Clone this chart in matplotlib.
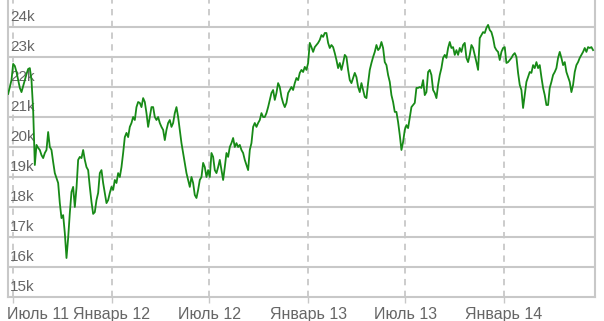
import matplotlib
matplotlib.use("Agg")
import matplotlib.pyplot as plt
import matplotlib.dates as mdates
import matplotlib.transforms as mtransforms
import pandas as pd
import numpy as np

plt.rcParams['font.family'] = ['Liberation Sans', 'DejaVu Sans']

# index values (thousands), sampled evenly in time from 2011-06-22 to 2014-06-16
seg_2011 = [21.77, 22.00, 22.23, 22.77, 22.70, 22.50, 22.23, 21.97, 21.83, 22.03,
            22.23, 22.43, 22.60, 22.63, 22.23, 21.23, 19.40, 20.07, 19.97, 19.90,
            19.73, 19.63, 19.80, 19.90, 20.50, 20.00, 19.90, 19.50, 19.13, 18.97,
            18.80, 18.13, 17.63, 17.73, 17.13, 16.30, 16.97, 17.80, 18.50, 18.67,
            18.00, 18.63, 19.57, 19.67, 19.63, 19.90, 19.57, 19.33, 19.23, 18.67,
            18.17, 17.77]
seg_2012a = [17.83, 18.23, 18.47, 19.13, 19.23, 18.80, 18.47, 18.13, 18.23, 18.47,
             18.67, 18.57, 18.90, 18.80, 19.13, 19.00, 19.33, 19.80, 20.33, 20.47,
             20.33, 20.67, 20.80, 21.00, 20.90, 21.33, 21.50, 21.47, 21.33, 21.63,
             21.50, 21.13, 20.67, 21.00, 21.33, 21.33, 21.00, 20.90, 21.00, 20.80,
             20.67, 20.57, 20.23, 20.57, 20.80, 20.90, 20.67, 20.80, 21.13, 21.33,
             21.00, 20.57, 20.13, 19.80, 19.47, 19.13, 18.90, 18.67, 19.00, 18.80]
seg_2012b = [18.40, 18.30, 18.57, 18.90, 19.00, 19.47, 19.33, 19.00, 19.23, 19.00,
             19.80, 19.67, 19.23, 19.13, 19.33, 19.57, 19.23, 18.90, 19.33, 19.80,
             19.67, 20.00, 20.13, 20.30, 20.00, 20.13, 20.00, 20.07, 19.90, 19.80,
             19.57, 19.40, 19.23, 19.90, 20.13, 20.67, 20.80, 20.67, 20.80, 20.90,
             21.13, 21.00, 21.00, 21.13, 21.33, 21.57, 21.80, 21.90, 21.57, 21.80,
             22.13, 22.00, 21.67, 21.47, 21.33, 21.47, 21.80]
seg_2013a = [21.90, 22.00, 21.90, 22.13, 22.30, 22.23, 22.47, 22.57, 22.50, 22.67,
             22.57, 22.80, 23.47, 23.33, 23.17, 23.33, 23.40, 23.47, 23.57, 23.73,
             23.67, 23.80, 23.80, 23.47, 23.30, 23.40, 23.33, 23.13, 22.90, 22.63,
             22.80, 22.57, 22.80, 23.07, 23.00, 22.57, 22.23, 22.13, 22.30, 22.47,
             22.33, 22.00, 21.83, 22.13, 21.90, 21.67, 21.63, 22.13, 22.57, 22.80,
             23.00, 23.17, 23.40, 23.23]
seg_2013b = [23.30, 23.50, 23.30, 22.83, 22.73, 22.40, 22.17, 21.73, 21.50, 21.17,
             21.17, 20.83, 20.40, 19.90, 20.17, 20.57, 20.73, 20.63, 20.97, 21.33,
             21.40, 21.47, 21.97, 21.97, 22.00, 21.97, 22.23, 21.73, 21.83, 22.50,
             22.57, 22.40, 21.90, 21.80, 21.63, 22.07, 22.40, 22.63, 22.97, 23.07,
             22.97, 23.30, 23.50, 23.30, 23.33, 23.07, 23.23, 23.07, 23.30, 23.17,
             23.40, 23.47, 22.97, 22.83, 23.07, 23.40, 23.30, 23.07, 22.83, 22.57,
             23.63, 23.73, 23.83]
seg_2014 = [23.80, 23.97, 24.07, 23.90, 23.83, 23.63, 23.33, 23.23, 23.17, 22.90,
            23.17, 23.30, 23.33, 22.80, 22.83, 22.90, 22.97, 23.07, 23.13, 23.00,
            22.47, 22.07, 21.90, 21.30, 21.73, 22.17, 22.33, 22.50, 22.47, 22.73,
            22.63, 22.83, 22.63, 22.73, 22.33, 21.97, 21.73, 21.40, 21.40, 21.97,
            22.17, 22.40, 22.50, 22.63, 22.97, 23.17, 22.97, 22.73, 22.83, 22.50,
            22.33, 22.17, 21.83, 22.07, 22.50, 22.73, 22.83, 22.97, 23.07, 23.17,
            23.30, 23.17, 23.33, 23.30, 23.33, 23.23]

values = np.array(seg_2011 + seg_2012a + seg_2012b + seg_2013a + seg_2013b + seg_2014) * 1000
dates = pd.date_range('2011-06-22', '2014-06-16', periods=len(values))

y_ticks = [15000, 16000, 17000, 18000, 19000, 20000, 21000, 22000, 23000, 24000]
y_labels = ['15k', '16k', '17k', '18k', '19k', '20k', '21k', '22k', '23k', '24k']
x_ticks = ['2011-07-01', '2012-01-01', '2012-07-01', '2013-01-01', '2013-07-01', '2014-01-01']
x_labels = ['Июль 11', 'Январь 12', 'Июль 12', 'Январь 13', 'Июль 13', 'Январь 14']

W, H = 604, 321
fig = plt.figure(figsize=(W / 100, H / 100), dpi=100)
ax = fig.add_axes([8 / W, 24 / H, 587 / W, 297 / H])

grid_c = '#c8c8c8'
txt_c = '#666666'

ax.plot(dates, values, color='#178a17', lw=1.3, zorder=3, solid_joinstyle='round')

ax.set_ylim(15000, 24900)
x0 = mdates.date2num(pd.Timestamp('2011-07-01'))
ax.set_xlim(x0 - 9.3, x0 + 1084.6)

ax.set_yticks(y_ticks)
ax.set_yticklabels([])
ax.tick_params(axis='y', length=0)
for yv in y_ticks[1:]:
    ax.axhline(yv, color=grid_c, lw=1.5, zorder=1)

trans = mtransforms.blended_transform_factory(ax.transAxes, ax.transData)
for yv, lab in zip(y_ticks, y_labels):
    ax.text(0, yv, lab, transform=trans + mtransforms.ScaledTranslation(2 / 100, 3 / 100, fig.dpi_scale_trans),
            ha='left', va='bottom', fontsize=11, color=txt_c, zorder=2)

xt = [pd.Timestamp(d) for d in x_ticks]
ax.set_xticks(xt)
ax.set_xticklabels(x_labels, fontsize=11.5, color=txt_c)
ax.tick_params(axis='x', length=4, width=1, color=grid_c, pad=3)
for d in xt:
    ax.axvline(d, color=grid_c, lw=1.3, ls=(0, (3.5, 3)), zorder=1)
lbl0 = ax.get_xticklabels()[0]
lbl0.set_horizontalalignment('left')
lbl0.set_transform(lbl0.get_transform() + mtransforms.ScaledTranslation(-6 / 100, 0, fig.dpi_scale_trans))

ax.spines['top'].set_visible(False)
for s in ['left', 'bottom', 'right']:
    ax.spines[s].set_color(grid_c)
    ax.spines[s].set_linewidth(1.5)

fig.savefig('out.png', dpi=100, facecolor='white')
